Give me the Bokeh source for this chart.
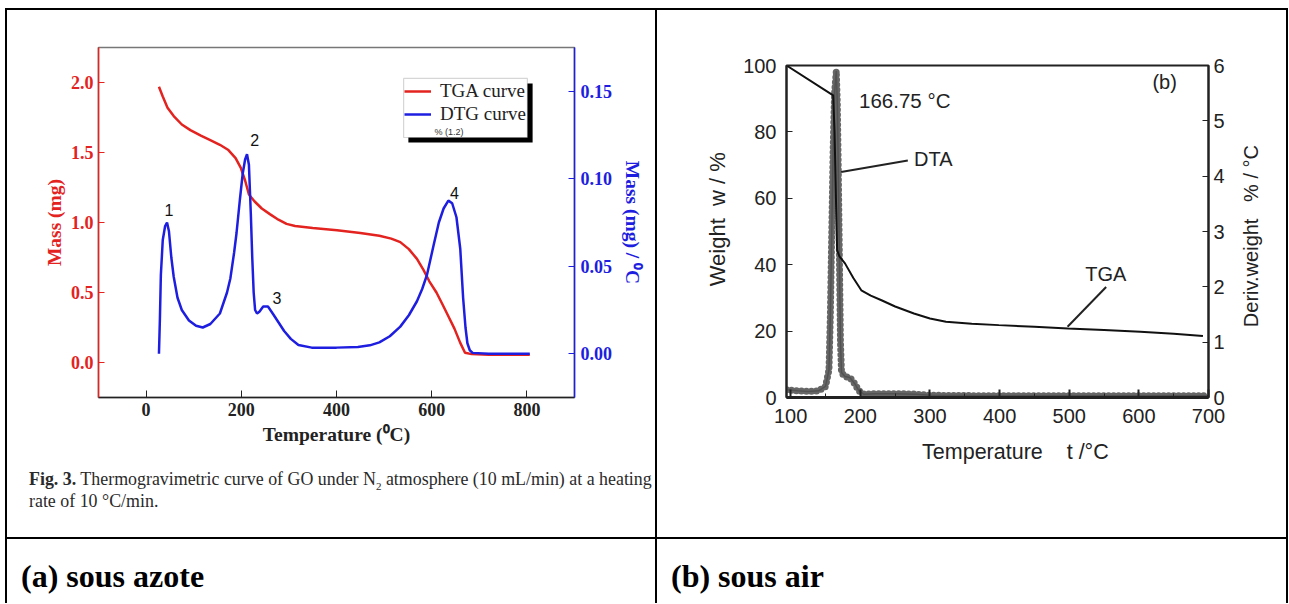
import math
from bokeh.plotting import figure
from bokeh.models import (Range1d, LinearAxis, FixedTicker, Label, Legend, LegendItem,
                          BoxAnnotation, Div, Arrow, PrintfTickFormatter)
from bokeh.layouts import row, column
from bokeh.embed import file_html
from bokeh.resources import INLINE

SERIF = "Liberation Serif"
SANS = "Liberation Sans"
RED = "#e3231f"
BLUE = "#1e1ee0"
NB = "\u00a0"

# ---------------- (a) data: GO under N2 ----------------
tga_a_T = [27, 35, 45, 58, 75, 93, 115, 137, 155, 172, 188, 199, 208, 216, 228, 243, 260, 278,
           295, 313, 350, 401, 450, 490, 515, 534, 552, 569, 583, 595, 610, 622, 635, 648, 660,
           670, 684, 720, 760, 806]
tga_a_mass = [1.97, 1.90, 1.82, 1.76, 1.70, 1.66, 1.62, 1.585, 1.555, 1.52, 1.46, 1.39, 1.30, 1.20,
              1.15, 1.10, 1.06, 1.02, 0.99, 0.975, 0.96, 0.945, 0.925, 0.905, 0.885, 0.86, 0.81,
              0.74, 0.66, 0.58, 0.50, 0.42, 0.33, 0.24, 0.14, 0.07, 0.06, 0.055, 0.055, 0.055]
dtg_a_T = [27, 29, 31, 35, 40, 44, 48, 53, 58, 66, 75, 90, 105, 119, 135, 155, 170, 177, 185, 190,
           197, 203, 208, 212, 216, 220, 223, 226, 229, 233, 238, 246, 256, 266, 278, 290, 304,
           320, 348, 400, 445, 470, 490, 512, 534, 552, 569, 580, 590, 604, 615, 625, 635, 643,
           652, 660, 666, 671, 675, 680, 686, 720, 760, 806]
dtg_a_val = [0.000, 0.020, 0.045, 0.065, 0.073, 0.075, 0.070, 0.055, 0.044, 0.032, 0.025, 0.019,
             0.016, 0.015, 0.017, 0.023, 0.035, 0.043, 0.058, 0.069, 0.088, 0.103, 0.111, 0.114,
             0.108, 0.080, 0.055, 0.035, 0.025, 0.023, 0.024, 0.027, 0.027, 0.023, 0.018, 0.013,
             0.0085, 0.005, 0.0035, 0.0035, 0.0038, 0.0048, 0.0065, 0.010, 0.0155, 0.022, 0.030,
             0.037, 0.045, 0.062, 0.075, 0.083, 0.0875, 0.086, 0.078, 0.060, 0.032, 0.015, 0.006,
             0.002, 0.0005, 0.0, 0.0, 0.0]
peak_names = ["1", "2", "3", "4"]
peak_T = [48, 228, 275, 648]
peak_y = [1.09, 1.59, 0.46, 1.21]
x_ticks_a = [0, 200, 400, 600, 800]
mass_ticks = [0.0, 0.5, 1.0, 1.5, 2.0]
dtg_ticks = [0.0, 0.05, 0.10, 0.15]

# ---------------- (b) data: under air ----------------
tga_b_T = [94, 161, 163, 165, 166.7, 170, 178, 190, 201.4, 215, 230.4, 250, 277, 300, 323, 360,
           399, 450, 498, 550, 602, 650, 692]
tga_b_w = [100, 91.0, 80, 60, 44.4, 42.5, 40.4, 36, 32.3, 30.7, 29.3, 27.4, 25.3, 23.8, 22.8,
           22.2, 21.8, 21.3, 20.8, 20.3, 19.8, 19.2, 18.5]
dta_b_T = [94, 110, 125, 140, 150, 155, 157, 159, 161, 163, 165.5, 167, 168.5, 170, 171.5, 173,
           178, 185, 192, 198, 205, 220, 250, 280, 300, 400, 500, 600, 700]
dta_b_val = [0.14, 0.12, 0.11, 0.12, 0.2, 0.5, 1.5, 3.0, 4.5, 5.5, 5.9, 5.3, 4.0, 2.5, 1.0, 0.45,
             0.38, 0.36, 0.25, 0.12, 0.06, 0.07, 0.07, 0.06, 0.04, 0.03, 0.03, 0.03, 0.03]
x_ticks_b = [100, 200, 300, 400, 500, 600, 700]
x_minor_b = [150, 250, 350, 450, 550, 650]
w_ticks = [0, 20, 40, 60, 80, 100]
deriv_ticks = [0, 1, 2, 3, 4, 5, 6]


def clean(p):
    p.xgrid.visible = False
    p.ygrid.visible = False


def style_axis(a, font, size, color, bold, standoff, tick_in, tick_out=0):
    a.major_tick_in = tick_in
    a.major_tick_out = tick_out
    a.axis_line_color = color
    a.major_tick_line_color = color
    a.major_label_text_font = font
    a.major_label_text_font_style = "bold" if bold else "normal"
    a.major_label_text_font_size = size
    a.major_label_text_color = color
    a.major_label_standoff = standoff
    a.axis_label_text_font = font
    a.axis_label_text_font_style = "bold" if bold else "normal"
    a.axis_label_text_color = color


# ================= figure (a) =================
fa = figure(width=648, height=450, x_range=Range1d(-100, 900), y_range=Range1d(-0.25, 2.25),
            output_backend="svg", toolbar_location=None, title=None,
            min_border_left=91, min_border_right=81, min_border_top=37, min_border_bottom=63,
            background_fill_color="white", border_fill_color="white",
            outline_line_color="#777777", outline_line_width=1.5)
clean(fa)
fa.extra_y_ranges = {"dtg": Range1d(-0.025, 0.175)}

ax = fa.xaxis[0]
ax.ticker = FixedTicker(ticks=x_ticks_a)
style_axis(ax, SERIF, "18px", "#222222", True, 5, 7)
ax.minor_tick_line_color = None
ax.axis_line_width = 1.5
ax.axis_label = "Temperature (\u2070C)"
ax.axis_label_text_font_size = "19.5px"
ax.axis_label_standoff = 5

ay = fa.yaxis[0]
ay.ticker = FixedTicker(ticks=mass_ticks)
ay.formatter = PrintfTickFormatter(format="%.1f")
style_axis(ay, SERIF, "18px", RED, True, 5, 6)
ay.minor_tick_line_color = None
ay.axis_line_width = 1.5
ay.axis_label = "Mass (mg)"
ay.axis_label_text_font_size = "19.5px"
ay.axis_label_standoff = 3

ar = LinearAxis(y_range_name="dtg", ticker=FixedTicker(ticks=dtg_ticks),
                formatter=PrintfTickFormatter(format="%.2f"))
style_axis(ar, SERIF, "18px", BLUE, True, 6, 6)
ar.minor_tick_line_color = None
ar.axis_line_width = 1.5
ar.axis_label = "Mass (mg) / \u2070C"
ar.axis_label_text_font_size = "19.5px"
ar.axis_label_standoff = 7
fa.add_layout(ar, "right")

r_tga = fa.line(tga_a_T, tga_a_mass, line_color=RED, line_width=2.5)
r_dtg = fa.line(dtg_a_T, dtg_a_val, y_range_name="dtg", line_color=BLUE, line_width=2.5)

for name, tx, ty in zip(peak_names, peak_T, peak_y):
    fa.add_layout(Label(x=tx, y=ty, text=name, text_align="center", text_baseline="middle",
                        text_font=SANS, text_font_size="16px", text_color="#111111"))

# legend frame with drop shadow
fa.add_layout(BoxAnnotation(left=551, right=812, top=1.993, bottom=1.571,
                            fill_color="black", fill_alpha=1, line_alpha=0))
fa.add_layout(BoxAnnotation(left=541, right=801, top=2.029, bottom=1.607,
                            fill_color="white", fill_alpha=1, line_color="#777777", line_width=1.2))
leg = Legend(items=[LegendItem(label="TGA curve", renderers=[r_tga]),
                    LegendItem(label="DTG curve", renderers=[r_dtg])],
             location=(306, 272), background_fill_alpha=0, border_line_alpha=0,
             padding=0, margin=0, spacing=1, glyph_width=27, glyph_height=22,
             label_standoff=9, label_height=22, label_text_font=SERIF,
             label_text_font_size="19px", label_text_color="#222222")
fa.add_layout(leg)
fa.add_layout(Label(x=606, y=1.65, text="% (1.2)", text_font=SANS, text_font_size="9px",
                    text_baseline="middle", text_color="#333333"))

cap_a = Div(text=('<div style="padding:9px 0 0 22px;font-family:\'Liberation Serif\';'
                  'font-size:17.9px;line-height:21.7px;color:#2a2a2a;white-space:nowrap;">'
                  '<b>Fig. 3.</b> Thermogravimetric curve of GO under N<sub style="font-size:11px;'
                  'line-height:0">2</sub> atmosphere (10 mL/min) at a heating<br>'
                  'rate of 10 \u00b0C/min.</div>'),
            width=648, height=77, margin=0,
            styles={"background-color": "white", "overflow": "hidden"})

# ================= figure (b) =================
INK = "#222222"
fb = figure(width=583, height=527, x_range=Range1d(94, 700), y_range=Range1d(0, 100),
            output_backend="svg", toolbar_location=None, title=None,
            min_border_left=129, min_border_right=32, min_border_top=55, min_border_bottom=140,
            background_fill_color="white", border_fill_color="white",
            outline_line_color=INK, outline_line_width=2)
clean(fb)
fb.extra_y_ranges = {"deriv": Range1d(0, 6)}

bx = fb.xaxis[0]
bx.ticker = FixedTicker(ticks=x_ticks_b, minor_ticks=x_minor_b)
style_axis(bx, SANS, "20px", INK, False, 11, 8)
bx.minor_tick_in = 4
bx.minor_tick_out = 0
bx.axis_line_width = 3
bx.minor_tick_line_color = INK
bx.major_tick_line_width = 2
bx.axis_label = NB * 6 + "Temperature" + NB * 4 + "t /\u00b0C"
bx.axis_label_text_font_size = "21.5px"
bx.axis_label_standoff = 14

by = fb.yaxis[0]
by.ticker = FixedTicker(ticks=w_ticks)
style_axis(by, SANS, "20px", INK, False, 10, 6)
by.minor_tick_line_color = None
by.axis_line_width = 2
by.axis_label = NB * 4 + "Weight" + NB * 2 + "w / %"
by.axis_label_text_font_size = "22px"
by.axis_label_standoff = 10

br = LinearAxis(y_range_name="deriv", ticker=FixedTicker(ticks=deriv_ticks))
style_axis(br, SANS, "20px", INK, False, 5, 6)
br.minor_tick_line_color = None
br.axis_line_width = 2
fb.add_layout(br, "right")

# DTA: thin line plus bead-like round dots
fb.line(dta_b_T, dta_b_val, y_range_name="deriv", line_color="#333333", line_width=1.5)
fb.line(dta_b_T, dta_b_val, y_range_name="deriv", line_color="#555555", line_width=7,
        line_dash="0 5", line_cap="round", line_alpha=0.9)
fb.line(tga_b_T, tga_b_w, line_color="#111111", line_width=2)

fb.add_layout(Label(x=198.2, y=89.5, text="166.75 \u00b0C", text_font=SANS, text_font_size="20.5px",
                    text_baseline="middle", text_color=INK))
fb.add_layout(Label(x=637, y=95.0, text="(b)", text_font=SANS, text_font_size="20px",
                    text_align="center", text_baseline="middle", text_color=INK))
fb.add_layout(Label(x=277.2, y=71.7, text="DTA", text_font=SANS, text_font_size="20px",
                    text_baseline="middle", text_color=INK))
fb.add_layout(Label(x=552.6, y=37.1, text="TGA", text_font=SANS, text_font_size="20px",
                    text_align="center", text_baseline="middle", text_color=INK))
fb.add_layout(Arrow(end=None, x_start=172.4, y_start=67.9, x_end=268.2, y_end=71.4,
                    line_color=INK, line_width=2))
fb.add_layout(Arrow(end=None, x_start=553, y_start=33.3, x_end=497.6, y_end=21.3,
                    line_color=INK, line_width=2))

# right axis title of (b), reading bottom-to-top
right_title_b = "Deriv.weight" + "&nbsp;" * 3 + "% / \u00b0C"
lab_b = Div(text=('<div style="width:22px;height:453px;display:flex;align-items:center;'
                  'justify-content:center;">'
                  '<span style="writing-mode:vertical-rl;transform:rotate(180deg);'
                  'font-family:\'Liberation Sans\';font-size:20px;color:#222;white-space:nowrap;">'
                  + right_title_b + '</span></div>'),
            width=46, height=527, margin=0, styles={"background-color": "white"})

# ================= table frame and captions =================
cap_style = ("font-family:'Liberation Serif';font-weight:bold;font-size:32px;"
             "line-height:34px;color:black;white-space:nowrap;")
da = Div(text='<div style="padding:20px 0 0 14px;%s">(a) sous azote</div>' % cap_style,
         width=648, height=64, margin=0, styles={"background-color": "white"})
db = Div(text='<div style="padding:20px 0 0 14px;%s">(b) sous air</div>' % cap_style,
         width=629, height=64, margin=0, styles={"background-color": "white"})


def vline(h):
    return Div(text="", width=2, height=h, margin=0, styles={"background-color": "black"})


def hline(w):
    return Div(text="", width=w, height=2, margin=0, styles={"background-color": "black"})


cell_a = column(fa, cap_a, spacing=0)
cell_b = row(fb, lab_b, spacing=0)
top = row(vline(527), cell_a, vline(527), cell_b, vline(527), spacing=0)
bottom = row(vline(64), da, vline(64), db, vline(64), spacing=0)
page = column(hline(1283), top, hline(1283), bottom, spacing=0, margin=(8, 0, 0, 5))

open("out.html", "w").write(file_html(page, INLINE))
